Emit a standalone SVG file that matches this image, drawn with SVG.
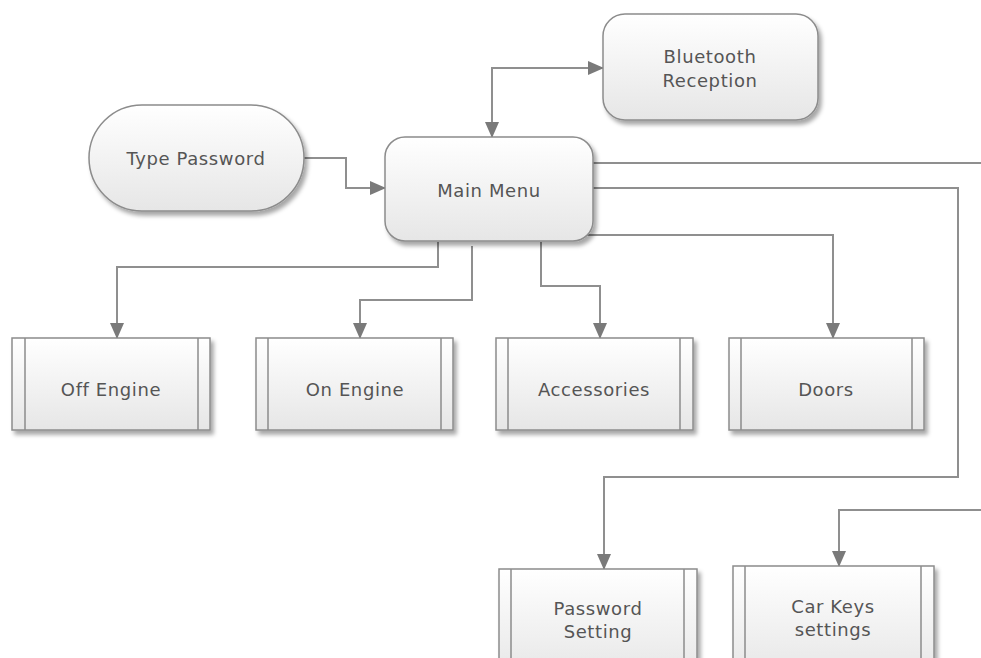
<svg xmlns="http://www.w3.org/2000/svg" width="981" height="658" viewBox="0 0 981 658">
<defs>
<linearGradient id="g" x1="0" y1="0" x2="0" y2="1">
<stop offset="0" stop-color="#ffffff"/>
<stop offset="1" stop-color="#e6e6e6"/>
</linearGradient>
<filter id="sh" x="-10%" y="-10%" width="125%" height="130%">
<feDropShadow dx="3" dy="4" stdDeviation="2" flood-color="#000" flood-opacity="0.35"/>
</filter>
<marker id="ah" markerUnits="userSpaceOnUse" markerWidth="16" markerHeight="14" refX="15" refY="7" orient="auto-start-reverse">
<path d="M0,0 L16,7 L0,14 z" fill="#7a7a7a"/>
</marker>
</defs>
<style>
.n{fill:url(#g);stroke:#8c8c8c;stroke-width:1.5;filter:url(#sh)}
.in{stroke:#8c8c8c;stroke-width:1.5;fill:none}
.t{font-family:"DejaVu Sans",Verdana,sans-serif;font-size:18px;fill:#555;text-anchor:middle;letter-spacing:0.6px}
.c{fill:none;stroke:#8f8f8f;stroke-width:2}
.a{marker-end:url(#ah)}
</style>
<g id="connectors">
<path class="c a" d="M492,137 V68 H603" marker-start="url(#ah)"/>
<path class="c a" d="M304,158 H346 V188 H385"/>
<path class="c" d="M593,163 H981"/>
<path class="c a" d="M593,188 H958 V477 H604 V569"/>
<path class="c a" d="M585,235 H833 V338"/>
<path class="c a" d="M438,242 V267 H117 V338"/>
<path class="c a" d="M472,246 V300 H360 V338"/>
<path class="c a" d="M541,242 V286 H600 V338"/>
<path class="c a" d="M981,510 H839 V566"/>
</g>
<g id="bluetooth">
<rect class="n" x="603" y="14" width="215" height="106" rx="22"/>
<text class="t" x="710" y="63">Bluetooth</text>
<text class="t" x="710" y="87">Reception</text>
</g>
<g id="typepassword">
<rect class="n" x="89" y="105" width="215" height="106" rx="53"/>
<text class="t" x="196" y="165">Type Password</text>
</g>
<g id="mainmenu">
<rect class="n" x="385" y="137" width="208" height="104" rx="20"/>
<text class="t" x="489" y="197">Main Menu</text>
</g>
<g id="offengine">
<rect class="n" x="12" y="338" width="198" height="92"/>
<path class="in" d="M25,338 V430 M198,338 V430"/>
<text class="t" x="111" y="396">Off Engine</text>
</g>
<g id="onengine">
<rect class="n" x="256" y="338" width="197" height="92"/>
<path class="in" d="M268,338 V430 M441,338 V430"/>
<text class="t" x="355" y="396">On Engine</text>
</g>
<g id="accessories">
<rect class="n" x="496" y="338" width="197" height="92"/>
<path class="in" d="M508,338 V430 M680,338 V430"/>
<text class="t" x="594" y="396">Accessories</text>
</g>
<g id="doors">
<rect class="n" x="729" y="338" width="195" height="92"/>
<path class="in" d="M741,338 V430 M912,338 V430"/>
<text class="t" x="826" y="396">Doors</text>
</g>
<g id="passwordsetting">
<rect class="n" x="499" y="569" width="198" height="110"/>
<path class="in" d="M511,569 V679 M684,569 V679"/>
<text class="t" x="598" y="615">Password</text>
<text class="t" x="598" y="638">Setting</text>
</g>
<g id="carkeys">
<rect class="n" x="733" y="566" width="201" height="113"/>
<path class="in" d="M745,566 V679 M921,566 V679"/>
<text class="t" x="833" y="613">Car Keys</text>
<text class="t" x="833" y="636">settings</text>
</g>
</svg>
